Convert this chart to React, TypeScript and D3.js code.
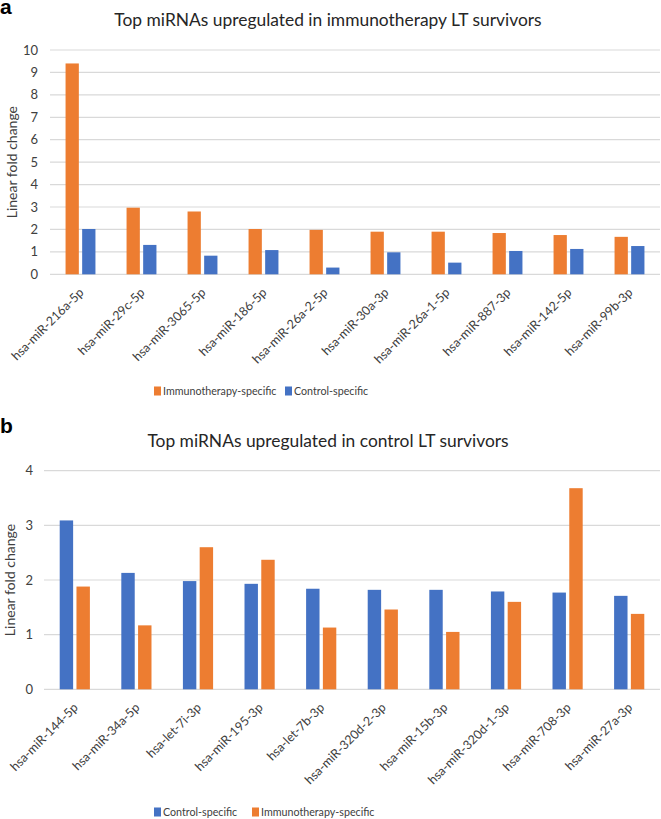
import React from "react";
import * as d3 from "d3";

const ORANGE = "#ED7D31";
const BLUE = "#4472C4";
const GRID = "#D9D9D9";
const FONT = "Lato, 'Open Sans', sans-serif";

// Panel a
const catsA = [
  "hsa-miR-216a-5p", "hsa-miR-29c-5p", "hsa-miR-3065-5p", "hsa-miR-186-5p", "hsa-miR-26a-2-5p",
  "hsa-miR-30a-3p", "hsa-miR-26a-1-5p", "hsa-miR-887-3p", "hsa-miR-142-5p", "hsa-miR-99b-3p",
];
const immunoA = [9.4, 2.97, 2.8, 2.02, 1.98, 1.9, 1.9, 1.84, 1.75, 1.67];
const controlA = [2.02, 1.31, 0.83, 1.08, 0.3, 0.98, 0.52, 1.04, 1.13, 1.26];
const ticksA = [0, 1, 2, 3, 4, 5, 6, 7, 8, 9, 10];

// Panel b
const catsB = [
  "hsa-miR-144-5p", "hsa-miR-34a-5p", "hsa-let-7i-3p", "hsa-miR-195-3p", "hsa-let-7b-3p",
  "hsa-miR-320d-2-3p", "hsa-miR-15b-3p", "hsa-miR-320d-1-3p", "hsa-miR-708-3p", "hsa-miR-27a-3p",
];
const controlB = [3.09, 2.13, 1.98, 1.93, 1.84, 1.82, 1.82, 1.79, 1.77, 1.71];
const immunoB = [1.88, 1.17, 2.6, 2.37, 1.13, 1.46, 1.05, 1.6, 3.68, 1.38];
const ticksB = [0, 1, 2, 3, 4];

type Series = { name: string; color: string; values: number[] };

type PanelProps = {
  letter: string;
  letterY: number;
  title: string;
  titleY: number;
  cats: string[];
  series: Series[];
  ticks: number[];
  x0: number;
  x1: number;
  yTop: number;
  yBottom: number;
  axisTitleX: number;
  tickLabelX: number;
  legendY: number;
  legendX: number[];
};

function Panel(p: PanelProps) {
  const maxV = p.ticks[p.ticks.length - 1];
  const y = d3.scaleLinear().domain([0, maxV]).range([p.yBottom, p.yTop]);
  const x = d3.scaleBand<string>().domain(p.cats).range([p.x0, p.x1]).paddingInner(0.51).paddingOuter(0.255);
  const inner = d3
    .scaleBand<string>()
    .domain(p.series.map((s) => s.name))
    .range([0, x.bandwidth()])
    .paddingInner(0.2);
  const midY = (p.yTop + p.yBottom) / 2;
  return (
    <g>
      <text x={0} y={p.letterY} fontFamily="'Liberation Sans', Arial, sans-serif" fontWeight="bold" fontSize={21} fill="#000">
        {p.letter}
      </text>
      <text x={328} y={p.titleY} textAnchor="middle" fontFamily={FONT} fontSize={17.4} fill="#262626">
        {p.title}
      </text>
      {p.ticks.map((t) => (
        <g key={t}>
          <line x1={p.x0} x2={p.x1} y1={y(t)} y2={y(t)} stroke={GRID} strokeWidth={1.2} />
          <text x={p.tickLabelX} y={y(t)} dy="0.35em" textAnchor="end" fontFamily={FONT} fontSize={13} fill="#404040">
            {t}
          </text>
        </g>
      ))}
      <text
        transform={`translate(${p.axisTitleX},${midY}) rotate(-90)`}
        textAnchor="middle"
        dy="0.35em"
        fontFamily={FONT}
        fontSize={14}
        fill="#404040"
      >
        Linear fold change
      </text>
      {p.cats.map((c, i) => (
        <g key={c}>
          {p.series.map((s) => (
            <rect
              key={s.name}
              x={(x(c) as number) + (inner(s.name) as number)}
              y={y(s.values[i])}
              width={inner.bandwidth()}
              height={y(0) - y(s.values[i])}
              fill={s.color}
            />
          ))}
          <text
            transform={`translate(${(x(c) as number) + x.bandwidth() / 2 + 4},${p.yBottom + 19}) rotate(-45)`}
            textAnchor="end"
            fontFamily={FONT}
            fontSize={12.5}
            fill="#404040"
          >
            {c}
          </text>
        </g>
      ))}
      {p.series.map((s, k) => (
        <g key={s.name} transform={`translate(${p.legendX[k]},${p.legendY})`}>
          <rect x={0} y={-4.5} width={7} height={9} fill={s.color} />
          <text x={9} y={0} dy="0.35em" fontFamily={FONT} fontSize={10.7} fill="#404040">
            {s.name}
          </text>
        </g>
      ))}
    </g>
  );
}

export default function App() {
  return (
    <svg
      width={661}
      height={819}
      viewBox="0 0 661 819"
      style={{ position: "absolute", left: 0, top: 0, background: "#fff" }}
    >
      <rect width={661} height={819} fill="#fff" />
      <Panel
        letter="a"
        letterY={14}
        title="Top miRNAs upregulated in immunotherapy LT survivors"
        titleY={26}
        cats={catsA}
        series={[
          { name: "Immunotherapy-specific", color: ORANGE, values: immunoA },
          { name: "Control-specific", color: BLUE, values: controlA },
        ]}
        ticks={ticksA}
        x0={50}
        x1={660}
        yTop={50}
        yBottom={274.3}
        axisTitleX={12}
        tickLabelX={38}
        legendY={391}
        legendX={[154, 285]}
      />
      <Panel
        letter="b"
        letterY={433}
        title="Top miRNAs upregulated in control LT survivors"
        titleY={447}
        cats={catsB}
        series={[
          { name: "Control-specific", color: BLUE, values: controlB },
          { name: "Immunotherapy-specific", color: ORANGE, values: immunoB },
        ]}
        ticks={ticksB}
        x0={44}
        x1={660}
        yTop={470.7}
        yBottom={689.3}
        axisTitleX={10}
        tickLabelX={33}
        legendY={812}
        legendX={[154, 252]}
      />
    </svg>
  );
}
